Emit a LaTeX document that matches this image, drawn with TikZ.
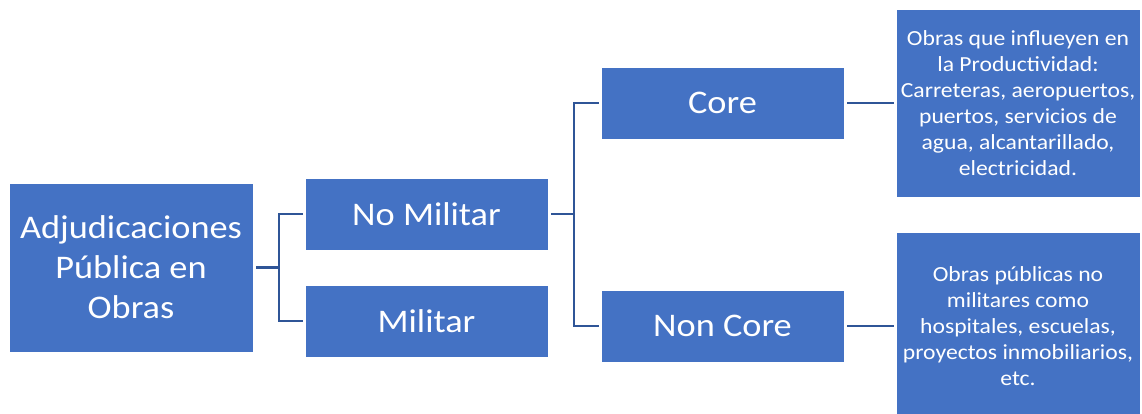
\documentclass[tikz,border=0pt]{standalone}
\usepackage{fontspec}
\newfontfamily\carl[FakeStretch=1.1]{Carlito}
\definecolor{boxblue}{HTML}{4472C4}
\definecolor{lineblue}{HTML}{2F5597}
\begin{document}
\begin{tikzpicture}[x=1pt,y=-1pt,
  box/.style={fill=boxblue,draw=white,line width=0.6pt,text=white,inner sep=0pt,align=center,anchor=center},
  big/.style={box,font=\carl\fontsize{33}{40}\selectfont},
  small/.style={box,font=\carl\fontsize{21.5}{26}\selectfont},
  conn/.style={draw=lineblue,line width=2.3pt,shorten <=3pt,shorten >=2pt}]
\useasboundingbox (0,0) rectangle (1142,414);
\begin{scope}
\clip (0,0) rectangle (1142,414);
\node[big,minimum width=244,minimum height=169] (A) at (131,267.5) {Adjudicaciones\\Pública en\\Obras};
\node[big,minimum width=243,minimum height=72] (NM) at (426.5,214) {No Militar};
\node[big,minimum width=243,minimum height=72] (M) at (426.5,321) {Militar};
\node[big,minimum width=243,minimum height=72] (C) at (722.5,103) {Core};
\node[big,minimum width=243,minimum height=72] (NC) at (722.5,326) {Non Core};
\node[small,minimum width=244,minimum height=188] (R1) at (1018,103) {Obras que influeyen en\\la Productividad:\\Carreteras, aeropuertos,\\puertos, servicios de\\agua, alcantarillado,\\electricidad.};
\node[small,minimum width=244,minimum height=188] (R2) at (1018,326) {Obras públicas no\\militares como\\hospitales, escuelas,\\proyectos inmobiliarios,\\etc.};
\end{scope}
\draw[conn] (A.east) -- ++(26,0) |- (NM.west);
\draw[conn] (A.east) -- ++(26,0) |- (M.west);
\draw[conn] (NM.east) -- ++(26,0) |- (C.west);
\draw[conn] (NM.east) -- ++(26,0) |- (NC.west);
\draw[conn] (C.east) -- (R1.west);
\draw[conn] (NC.east) -- (R2.west);
\end{tikzpicture}
\end{document}
